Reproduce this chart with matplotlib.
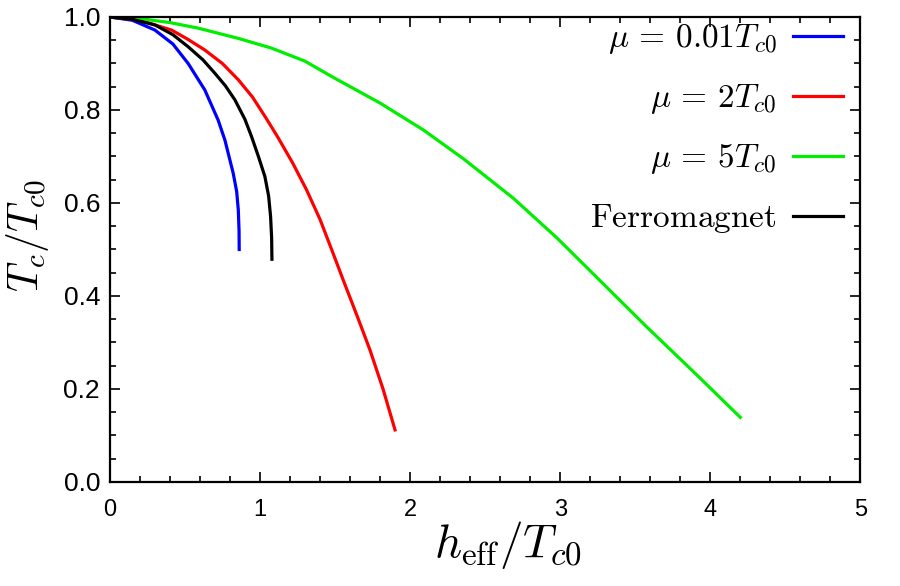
import numpy as np
import matplotlib
matplotlib.use('Agg')
import matplotlib.pyplot as plt
from matplotlib.ticker import MultipleLocator

plt.rcParams['mathtext.fontset'] = 'cm'
plt.rcParams['font.family'] = 'Liberation Sans'

# curves (h_eff/Tc0, Tc/Tc0)
blue_x = [0, 0.15, 0.3, 0.42, 0.522, 0.633, 0.722, 0.767, 0.822, 0.845, 0.856, 0.861, 0.862]
blue_y = [1, 0.993, 0.972, 0.942, 0.900, 0.843, 0.778, 0.735, 0.664, 0.625, 0.585, 0.54, 0.50]

black_x = [0, 0.15, 0.3, 0.42, 0.522, 0.62, 0.7, 0.77, 0.833, 0.9, 0.944, 0.99, 1.033, 1.058, 1.071, 1.078, 1.08]
black_y = [1, 0.995, 0.983, 0.962, 0.936, 0.908, 0.879, 0.852, 0.822, 0.780, 0.743, 0.70, 0.657, 0.615, 0.571, 0.525, 0.479]

red_x = [0, 0.2, 0.411, 0.52, 0.633, 0.75, 0.856, 0.95, 1.04, 1.122, 1.22, 1.311, 1.4, 1.48, 1.56, 1.65, 1.733, 1.82, 1.9]
red_y = [1, 0.993, 0.972, 0.952, 0.929, 0.900, 0.865, 0.828, 0.783, 0.740, 0.685, 0.628, 0.565, 0.498, 0.43, 0.355, 0.284, 0.2, 0.112]

green_x = [0, 0.189, 0.4, 0.589, 0.856, 1.078, 1.3, 1.489, 1.8, 2.089, 2.356, 2.689, 2.978, 3.244, 3.578, 3.911, 4.2]
green_y = [1, 0.997, 0.988, 0.976, 0.954, 0.933, 0.905, 0.870, 0.815, 0.757, 0.695, 0.610, 0.525, 0.440, 0.333, 0.230, 0.139]

labels = [r'$\mu\,=\,0.01T_{c0}$', r'$\mu\,=\,2T_{c0}$', r'$\mu\,=\,5T_{c0}$', r'$\mathrm{Ferromagnet}$']

fig = plt.figure(figsize=(9, 5.86), dpi=100)
ax = fig.add_axes([0.122, 0.1775, 0.834, 0.7935])

lw = 2.3
ax.plot(blue_x, blue_y, color='#0000ff', lw=lw, label=labels[0])
ax.plot(red_x, red_y, color='#ff0000', lw=lw, label=labels[1])
ax.plot(green_x, green_y, color='#00ee00', lw=lw, label=labels[2])
ax.plot(black_x, black_y, color='black', lw=lw, label=labels[3])

ax.set_xlim(0, 5)
ax.set_ylim(0, 1.0)
ax.xaxis.set_major_locator(MultipleLocator(1))
ax.xaxis.set_minor_locator(MultipleLocator(0.2))
ax.yaxis.set_minor_locator(MultipleLocator(0.05))
ax.set_yticks(np.arange(0, 1.01, 0.2))
ax.set_yticklabels(['0.0', '0.2', '0.4', '0.6', '0.8', '1.0'])
ax.tick_params(which='both', direction='in', top=True, right=True, width=1.2)
ax.tick_params(which='major', length=7)
ax.tick_params(which='minor', length=4)
ax.tick_params(axis='x', pad=12, labelsize=17)
ax.tick_params(axis='y', pad=7, labelsize=19)
for s in ax.spines.values():
    s.set_linewidth(1.6)

ax.set_xlabel(r'$h_{\rm eff}/T_{c0}$', fontsize=34)
ax.xaxis.set_label_coords(0.53, -0.08)
ax.set_ylabel(r'$T_c/T_{c0}$', fontsize=30)
ax.yaxis.set_label_coords(-0.078, 0.53)

leg = ax.legend(loc='upper right', bbox_to_anchor=(0.977, 0.9885), frameon=False,
                markerfirst=False, fontsize=24, handlelength=1.5, borderpad=0,
                borderaxespad=0, handletextpad=0.5, labelspacing=0.78)

fig.savefig('out.png', dpi=100)
